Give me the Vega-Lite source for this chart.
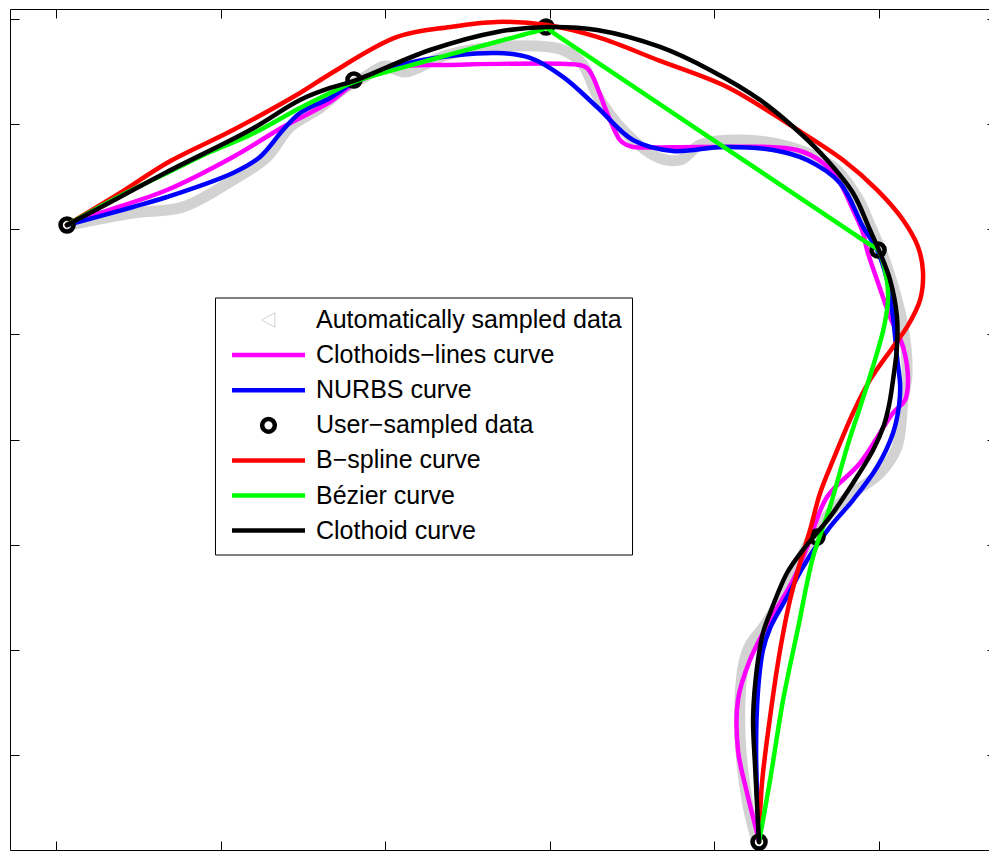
{
 "$schema": "https://vega.github.io/schema/vega-lite/v6.json",
 "width": 979, "height": 841,
 "autosize": {"type": "none"},
 "padding": {"left": 10, "top": 9, "right": 0, "bottom": 1},
 "background": "white",
 "config": {"view": {"stroke": null}, "font": "Liberation Sans",
   "axis": {"grid": false, "labels": false, "title": null, "tickColor": "black", "tickWidth": 1, "domainColor": "black", "domainWidth": 1},
   "line": {"interpolate": "catmull-rom", "strokeCap": "round", "strokeJoin": "round"}},
 "data": {"values": [
  {"s":"Automatically sampled data","i":0,"x":0.85,"y":50.41},
  {"s":"Automatically sampled data","i":1,"x":4.68,"y":51.55},
  {"s":"Automatically sampled data","i":2,"x":7.72,"y":52.12},
  {"s":"Automatically sampled data","i":3,"x":10.75,"y":54.69},
  {"s":"Automatically sampled data","i":4,"x":12.82,"y":56.88},
  {"s":"Automatically sampled data","i":5,"x":14.22,"y":59.73},
  {"s":"Automatically sampled data","i":6,"x":16.04,"y":61.54},
  {"s":"Automatically sampled data","i":7,"x":17.56,"y":63.44},
  {"s":"Automatically sampled data","i":8,"x":18.65,"y":64.39},
  {"s":"Automatically sampled data","i":9,"x":19.99,"y":65.53},
  {"s":"Automatically sampled data","i":10,"x":21.2,"y":64.96},
  {"s":"Automatically sampled data","i":11,"x":23.75,"y":66.58},
  {"s":"Automatically sampled data","i":12,"x":27.76,"y":67.43},
  {"s":"Automatically sampled data","i":13,"x":30.8,"y":67.05},
  {"s":"Automatically sampled data","i":14,"x":32.02,"y":65.63},
  {"s":"Automatically sampled data","i":15,"x":32.87,"y":62.77},
  {"s":"Automatically sampled data","i":16,"x":34.45,"y":59.44},
  {"s":"Automatically sampled data","i":17,"x":36.51,"y":56.88},
  {"s":"Automatically sampled data","i":18,"x":37.91,"y":56.59},
  {"s":"Automatically sampled data","i":19,"x":39.13,"y":58.02},
  {"s":"Automatically sampled data","i":20,"x":41.55,"y":58.49},
  {"s":"Automatically sampled data","i":21,"x":44.59,"y":57.83},
  {"s":"Automatically sampled data","i":22,"x":47.21,"y":55.93},
  {"s":"Automatically sampled data","i":23,"x":48.66,"y":53.07},
  {"s":"Automatically sampled data","i":24,"x":49.45,"y":50.41},
  {"s":"Automatically sampled data","i":25,"x":50.49,"y":46.41},
  {"s":"Automatically sampled data","i":26,"x":51.46,"y":40.71},
  {"s":"Automatically sampled data","i":27,"x":51.7,"y":36.33},
  {"s":"Automatically sampled data","i":28,"x":51.46,"y":33.76},
  {"s":"Automatically sampled data","i":29,"x":51.09,"y":29.29},
  {"s":"Automatically sampled data","i":30,"x":50.06,"y":26.82},
  {"s":"Automatically sampled data","i":31,"x":48.42,"y":24.92},
  {"s":"Automatically sampled data","i":32,"x":47.02,"y":23.02},
  {"s":"Automatically sampled data","i":33,"x":45.81,"y":20.45},
  {"s":"Automatically sampled data","i":34,"x":45.02,"y":17.88},
  {"s":"Automatically sampled data","i":35,"x":43.99,"y":14.74},
  {"s":"Automatically sampled data","i":36,"x":43.07,"y":12.36},
  {"s":"Automatically sampled data","i":37,"x":42.16,"y":10.46},
  {"s":"Automatically sampled data","i":38,"x":41.74,"y":8.37},
  {"s":"Automatically sampled data","i":39,"x":41.55,"y":2.09},
  {"s":"Automatically sampled data","i":40,"x":41.98,"y":-4.28},
  {"s":"Automatically sampled data","i":41,"x":42.47,"y":-7.61},

  {"s":"Clothoids−lines curve","i":0,"x":0.67,"y":50.41},
  {"s":"Clothoids−lines curve","i":1,"x":2.67,"y":51.55},
  {"s":"Clothoids−lines curve","i":2,"x":6.74,"y":53.74},
  {"s":"Clothoids−lines curve","i":3,"x":10.75,"y":56.88},
  {"s":"Clothoids−lines curve","i":4,"x":13.79,"y":59.73},
  {"s":"Clothoids−lines curve","i":5,"x":16.65,"y":62.11},
  {"s":"Clothoids−lines curve","i":6,"x":18.17,"y":63.91},
  {"s":"Clothoids−lines curve","i":7,"x":20.72,"y":65.44},
  {"s":"Clothoids−lines curve","i":8,"x":23.75,"y":65.63},
  {"s":"Clothoids−lines curve","i":9,"x":31.83,"y":65.63},
  {"s":"Clothoids−lines curve","i":10,"x":32.26,"y":65.34},
  {"s":"Clothoids−lines curve","i":11,"x":32.62,"y":64.49},
  {"s":"Clothoids−lines curve","i":12,"x":33.48,"y":61.06},
  {"s":"Clothoids−lines curve","i":13,"x":34.26,"y":58.49},
  {"s":"Clothoids−lines curve","i":14,"x":34.68,"y":58.02},
  {"s":"Clothoids−lines curve","i":15,"x":35.05,"y":57.83},
  {"s":"Clothoids−lines curve","i":16,"x":39.55,"y":57.83},
  {"s":"Clothoids−lines curve","i":17,"x":45.02,"y":57.54},
  {"s":"Clothoids−lines curve","i":18,"x":46.6,"y":56.31},
  {"s":"Clothoids−lines curve","i":19,"x":47.63,"y":54.4},
  {"s":"Clothoids−lines curve","i":20,"x":48.42,"y":51.84},
  {"s":"Clothoids−lines curve","i":21,"x":49.03,"y":49.65},
  {"s":"Clothoids−lines curve","i":22,"x":49.27,"y":48.03},
  {"s":"Clothoids−lines curve","i":23,"x":49.88,"y":45.18},
  {"s":"Clothoids−lines curve","i":24,"x":50.67,"y":41.66},
  {"s":"Clothoids−lines curve","i":25,"x":51.46,"y":38.81},
  {"s":"Clothoids−lines curve","i":26,"x":51.76,"y":35.67},
  {"s":"Clothoids−lines curve","i":27,"x":51.58,"y":33.76},
  {"s":"Clothoids−lines curve","i":28,"x":50.85,"y":32.53},
  {"s":"Clothoids−lines curve","i":29,"x":48.85,"y":27.77},
  {"s":"Clothoids−lines curve","i":30,"x":46.84,"y":24.54},
  {"s":"Clothoids−lines curve","i":31,"x":45.63,"y":19.78},
  {"s":"Clothoids−lines curve","i":32,"x":44.78,"y":16.64},
  {"s":"Clothoids−lines curve","i":33,"x":43.38,"y":12.84},
  {"s":"Clothoids−lines curve","i":34,"x":42.16,"y":9.04},
  {"s":"Clothoids−lines curve","i":35,"x":41.43,"y":5.23},
  {"s":"Clothoids−lines curve","i":36,"x":41.43,"y":0.48},
  {"s":"Clothoids−lines curve","i":37,"x":41.98,"y":-3.61},
  {"s":"Clothoids−lines curve","i":38,"x":42.59,"y":-7.42},
  {"s":"Clothoids−lines curve","i":39,"x":42.71,"y":-8.27},

  {"s":"NURBS curve","i":0,"x":0.67,"y":50.41},
  {"s":"NURBS curve","i":1,"x":4.68,"y":52.12},
  {"s":"NURBS curve","i":2,"x":6.74,"y":53.07},
  {"s":"NURBS curve","i":3,"x":10.75,"y":55.36},
  {"s":"NURBS curve","i":4,"x":12.39,"y":56.88},
  {"s":"NURBS curve","i":5,"x":13.79,"y":59.44},
  {"s":"NURBS curve","i":6,"x":14.82,"y":61.06},
  {"s":"NURBS curve","i":7,"x":16.65,"y":62.49},
  {"s":"NURBS curve","i":8,"x":18.17,"y":64.01},
  {"s":"NURBS curve","i":9,"x":21.69,"y":65.91},
  {"s":"NURBS curve","i":10,"x":26.79,"y":66.77},
  {"s":"NURBS curve","i":11,"x":28.8,"y":66.29},
  {"s":"NURBS curve","i":12,"x":30.8,"y":64.49},
  {"s":"NURBS curve","i":13,"x":32.87,"y":61.63},
  {"s":"NURBS curve","i":14,"x":35.05,"y":58.49},
  {"s":"NURBS curve","i":15,"x":37.48,"y":57.45},
  {"s":"NURBS curve","i":16,"x":40.52,"y":57.83},
  {"s":"NURBS curve","i":17,"x":43.56,"y":57.54},
  {"s":"NURBS curve","i":18,"x":45.63,"y":56.59},
  {"s":"NURBS curve","i":19,"x":47.63,"y":54.4},
  {"s":"NURBS curve","i":20,"x":49.03,"y":50.22},
  {"s":"NURBS curve","i":21,"x":49.88,"y":48.03},
  {"s":"NURBS curve","i":22,"x":50.49,"y":45.18},
  {"s":"NURBS curve","i":23,"x":50.85,"y":41.66},
  {"s":"NURBS curve","i":24,"x":51.09,"y":37.85},
  {"s":"NURBS curve","i":25,"x":51.28,"y":35.19},
  {"s":"NURBS curve","i":26,"x":51.22,"y":33.29},
  {"s":"NURBS curve","i":27,"x":50.85,"y":30.63},
  {"s":"NURBS curve","i":28,"x":49.88,"y":27.39},
  {"s":"NURBS curve","i":29,"x":48.42,"y":24.25},
  {"s":"NURBS curve","i":30,"x":47.02,"y":21.69},
  {"s":"NURBS curve","i":31,"x":45.38,"y":17.88},
  {"s":"NURBS curve","i":32,"x":44.41,"y":15.03},
  {"s":"NURBS curve","i":33,"x":43.38,"y":12.08},
  {"s":"NURBS curve","i":34,"x":42.95,"y":9.99},
  {"s":"NURBS curve","i":35,"x":42.65,"y":6.18},
  {"s":"NURBS curve","i":36,"x":42.53,"y":0.48},
  {"s":"NURBS curve","i":37,"x":42.71,"y":-8.27},

  {"s":"User−sampled data","i":0,"x":0.67,"y":50.41},
  {"s":"User−sampled data","i":1,"x":18.1,"y":64.2},
  {"s":"User−sampled data","i":2,"x":29.77,"y":69.24},
  {"s":"User−sampled data","i":3,"x":49.94,"y":48.03},
  {"s":"User−sampled data","i":4,"x":46.23,"y":20.73},
  {"s":"User−sampled data","i":5,"x":42.71,"y":-8.27},

  {"s":"B−spline curve","i":0,"x":0.67,"y":50.41},
  {"s":"B−spline curve","i":1,"x":3.89,"y":53.45},
  {"s":"B−spline curve","i":2,"x":6.74,"y":56.31},
  {"s":"B−spline curve","i":3,"x":10.75,"y":59.44},
  {"s":"B−spline curve","i":4,"x":14.82,"y":62.96},
  {"s":"B−spline curve","i":5,"x":16.65,"y":64.77},
  {"s":"B−spline curve","i":6,"x":20.72,"y":68.29},
  {"s":"B−spline curve","i":7,"x":23.94,"y":69.24},
  {"s":"B−spline curve","i":8,"x":26.79,"y":69.72},
  {"s":"B−spline curve","i":9,"x":29.83,"y":69.43},
  {"s":"B−spline curve","i":10,"x":32.87,"y":68.29},
  {"s":"B−spline curve","i":11,"x":36.7,"y":66.01},
  {"s":"B−spline curve","i":12,"x":40.77,"y":63.53},
  {"s":"B−spline curve","i":13,"x":44.78,"y":59.73},
  {"s":"B−spline curve","i":14,"x":47.81,"y":56.59},
  {"s":"B−spline curve","i":15,"x":49.88,"y":53.74},
  {"s":"B−spline curve","i":16,"x":51.46,"y":50.88},
  {"s":"B−spline curve","i":17,"x":52.37,"y":48.32},
  {"s":"B−spline curve","i":18,"x":52.67,"y":45.94},
  {"s":"B−spline curve","i":19,"x":52.49,"y":43.27},
  {"s":"B−spline curve","i":20,"x":51.7,"y":40.71},
  {"s":"B−spline curve","i":21,"x":50.85,"y":38.81},
  {"s":"B−spline curve","i":22,"x":49.45,"y":35.67},
  {"s":"B−spline curve","i":23,"x":48.42,"y":32.53},
  {"s":"B−spline curve","i":24,"x":47.21,"y":28.06},
  {"s":"B−spline curve","i":25,"x":46.42,"y":24.92},
  {"s":"B−spline curve","i":26,"x":45.81,"y":21.4},
  {"s":"B−spline curve","i":27,"x":45.2,"y":18.26},
  {"s":"B−spline curve","i":28,"x":44.59,"y":14.74},
  {"s":"B−spline curve","i":29,"x":43.99,"y":9.99},
  {"s":"B−spline curve","i":30,"x":43.38,"y":3.61},
  {"s":"B−spline curve","i":31,"x":42.89,"y":-2.66},
  {"s":"B−spline curve","i":32,"x":42.71,"y":-8.27},

  {"s":"Bézier curve","i":0,"x":0.67,"y":50.41},
  {"s":"Bézier curve","i":1,"x":3.89,"y":53.17},
  {"s":"Bézier curve","i":2,"x":6.74,"y":55.36},
  {"s":"Bézier curve","i":3,"x":9.36,"y":57.35},
  {"s":"Bézier curve","i":4,"x":11.79,"y":58.97},
  {"s":"Bézier curve","i":5,"x":14.82,"y":61.54},
  {"s":"Bézier curve","i":6,"x":16.65,"y":62.96},
  {"s":"Bézier curve","i":7,"x":18.1,"y":64.01},
  {"s":"Bézier curve","i":8,"x":22.72,"y":66.1},
  {"s":"Bézier curve","i":9,"x":26.97,"y":67.91},
  {"s":"Bézier curve","i":10,"x":29.5,"y":68.98},
  {"s":"Bézier curve","i":11,"x":29.77,"y":69.15},
  {"s":"Bézier curve","i":12,"x":30.37,"y":68.52},
  {"s":"Bézier curve","i":13,"x":49.33,"y":48.66},
  {"s":"Bézier curve","i":14,"x":49.94,"y":48.03},
  {"s":"Bézier curve","i":15,"x":50.36,"y":46.13},
  {"s":"Bézier curve","i":16,"x":50.55,"y":43.56},
  {"s":"Bézier curve","i":17,"x":50.3,"y":40.71},
  {"s":"Bézier curve","i":18,"x":49.51,"y":36.33},
  {"s":"Bézier curve","i":19,"x":48.85,"y":33.1},
  {"s":"Bézier curve","i":20,"x":48.06,"y":29.29},
  {"s":"Bézier curve","i":21,"x":47.02,"y":23.59},
  {"s":"Bézier curve","i":22,"x":45.99,"y":18.83},
  {"s":"Bézier curve","i":23,"x":45.08,"y":12.08},
  {"s":"Bézier curve","i":24,"x":44.17,"y":5.23},
  {"s":"Bézier curve","i":25,"x":43.38,"y":-2.38},
  {"s":"Bézier curve","i":26,"x":42.71,"y":-8.27},

  {"s":"Clothoid curve","i":0,"x":0.67,"y":50.41},
  {"s":"Clothoid curve","i":1,"x":3.89,"y":53.07},
  {"s":"Clothoid curve","i":2,"x":6.74,"y":55.45},
  {"s":"Clothoid curve","i":3,"x":11.79,"y":59.44},
  {"s":"Clothoid curve","i":4,"x":14.82,"y":62.3},
  {"s":"Clothoid curve","i":5,"x":16.65,"y":63.44},
  {"s":"Clothoid curve","i":6,"x":18.1,"y":64.11},
  {"s":"Clothoid curve","i":7,"x":22.72,"y":67.05},
  {"s":"Clothoid curve","i":8,"x":26.79,"y":68.77},
  {"s":"Clothoid curve","i":9,"x":29.83,"y":69.24},
  {"s":"Clothoid curve","i":10,"x":32.87,"y":68.96},
  {"s":"Clothoid curve","i":11,"x":36.7,"y":67.34},
  {"s":"Clothoid curve","i":12,"x":39.73,"y":65.15},
  {"s":"Clothoid curve","i":13,"x":42.77,"y":62.3},
  {"s":"Clothoid curve","i":14,"x":45.2,"y":59.16},
  {"s":"Clothoid curve","i":15,"x":46.84,"y":56.59},
  {"s":"Clothoid curve","i":16,"x":48.42,"y":53.45},
  {"s":"Clothoid curve","i":17,"x":49.45,"y":49.93},
  {"s":"Clothoid curve","i":18,"x":50.06,"y":47.75},
  {"s":"Clothoid curve","i":19,"x":50.67,"y":45.18},
  {"s":"Clothoid curve","i":20,"x":51.09,"y":41.66},
  {"s":"Clothoid curve","i":21,"x":51.09,"y":38.81},
  {"s":"Clothoid curve","i":22,"x":50.85,"y":35.67},
  {"s":"Clothoid curve","i":23,"x":50.61,"y":33.29},
  {"s":"Clothoid curve","i":24,"x":50.3,"y":31.39},
  {"s":"Clothoid curve","i":25,"x":49.64,"y":29.01},
  {"s":"Clothoid curve","i":26,"x":48.42,"y":25.87},
  {"s":"Clothoid curve","i":27,"x":47.02,"y":22.64},
  {"s":"Clothoid curve","i":28,"x":45.38,"y":19.5},
  {"s":"Clothoid curve","i":29,"x":44.41,"y":17.31},
  {"s":"Clothoid curve","i":30,"x":43.38,"y":13.51},
  {"s":"Clothoid curve","i":31,"x":42.95,"y":11.6},
  {"s":"Clothoid curve","i":32,"x":42.59,"y":8.37},
  {"s":"Clothoid curve","i":33,"x":42.35,"y":3.61},
  {"s":"Clothoid curve","i":34,"x":42.47,"y":-1.14},
  {"s":"Clothoid curve","i":35,"x":42.71,"y":-8.27}
 ]},
 "layer": [
  {"transform": [{"filter": "datum.s == 'Automatically sampled data'"}],
   "mark": {"type": "line"},
   "encoding": {
    "x": {"field": "x", "type": "quantitative", "scale": {"domain": [-2.795, 56.68], "nice": false, "zero": false},
          "axis": {"orient": "bottom", "values": [0,10,20,30,40,50], "tickSize": -9, "domain": true, "labels": false, "title": null}},
    "y": {"field": "y", "type": "quantitative", "scale": {"domain": [-9.035, 70.95], "nice": false, "zero": false},
          "axis": {"orient": "left", "values": [0,10,20,30,40,50,60,70], "tickSize": -9, "domain": true, "labels": false, "title": null}},
    "order": {"field": "i", "type": "quantitative"},
    "strokeWidth": {"value": 11},
    "color": {"field": "s", "type": "nominal",
      "scale": {"domain": ["Automatically sampled data", "Clothoids−lines curve", "NURBS curve", "User−sampled data", "B−spline curve", "Bézier curve", "Clothoid curve"],
                "range": ["#d2d2d2", "#ff00ff", "#0000ff", "#000000", "#ff0000", "#00ff00", "#000000"]},
      "legend": {"orient": "none", "legendX": 205, "legendY": 288.5, "title": null,
        "symbolType": {"expr": "datum.value == 'User−sampled data' ? 'circle' : (datum.value == 'Automatically sampled data' ? 'triangle-left' : 'M-7.3,0H7.3')"},
        "symbolSize": {"expr": "datum.value == 'User−sampled data' ? 160 : (datum.value == 'Automatically sampled data' ? 220 : 100)"},
        "symbolStrokeWidth": {"expr": "datum.value == 'Automatically sampled data' ? 1 : 4.5"},
        "symbolFillColor": "transparent",
        "symbolOffset": 31, "labelOffset": 35, "padding": 10, "rowPadding": 9.1,
        "labelFontSize": 25, "labelFont": "Liberation Sans", "labelColor": "black", "labelLimit": 600,
        "strokeColor": "black", "fillColor": "white", "cornerRadius": 0}}
   }},
  {"transform": [{"filter": "datum.s == 'Clothoids−lines curve'"}],
   "mark": {"type": "line"},
   "encoding": {
    "x": {"field": "x", "type": "quantitative", "axis": {"orient": "top", "values": [0,10,20,30,40,50], "tickSize": -9, "domain": true, "labels": false, "title": null}},
    "y": {"field": "y", "type": "quantitative", "axis": {"orient": "right", "values": [0,10,20,30,40,50,60,70], "tickSize": -2, "domain": false, "labels": false, "title": null}},
    "order": {"field": "i", "type": "quantitative"},
    "strokeWidth": {"value": 4.5},
    "color": {"field": "s", "type": "nominal"}
   }},
  {"transform": [{"filter": "datum.s == 'NURBS curve'"}],
   "mark": {"type": "line"},
   "encoding": {
    "x": {"field": "x", "type": "quantitative", "axis": null},
    "y": {"field": "y", "type": "quantitative", "axis": null},
    "order": {"field": "i", "type": "quantitative"},
    "strokeWidth": {"value": 4.5},
    "color": {"field": "s", "type": "nominal"}
   }},
  {"transform": [{"filter": "datum.s == 'User−sampled data'"}],
   "mark": {"type": "point", "shape": "circle", "filled": false, "size": 170, "opacity": 1},
   "encoding": {
    "x": {"field": "x", "type": "quantitative", "axis": null},
    "y": {"field": "y", "type": "quantitative", "axis": null},
    "strokeWidth": {"value": 4.5},
    "color": {"field": "s", "type": "nominal"}
   }},
  {"transform": [{"filter": "datum.s == 'B−spline curve'"}],
   "mark": {"type": "line"},
   "encoding": {
    "x": {"field": "x", "type": "quantitative", "axis": null},
    "y": {"field": "y", "type": "quantitative", "axis": null},
    "order": {"field": "i", "type": "quantitative"},
    "strokeWidth": {"value": 4.5},
    "color": {"field": "s", "type": "nominal"}
   }},
  {"transform": [{"filter": "datum.s == 'Bézier curve'"}],
   "mark": {"type": "line"},
   "encoding": {
    "x": {"field": "x", "type": "quantitative", "axis": null},
    "y": {"field": "y", "type": "quantitative", "axis": null},
    "order": {"field": "i", "type": "quantitative"},
    "strokeWidth": {"value": 4.5},
    "color": {"field": "s", "type": "nominal"}
   }},
  {"transform": [{"filter": "datum.s == 'Clothoid curve'"}],
   "mark": {"type": "line"},
   "encoding": {
    "x": {"field": "x", "type": "quantitative", "axis": null},
    "y": {"field": "y", "type": "quantitative", "axis": null},
    "order": {"field": "i", "type": "quantitative"},
    "strokeWidth": {"value": 4.5},
    "color": {"field": "s", "type": "nominal"}
   }}
 ],
 "resolve": {"axis": {"x": "independent", "y": "independent"}}
}
